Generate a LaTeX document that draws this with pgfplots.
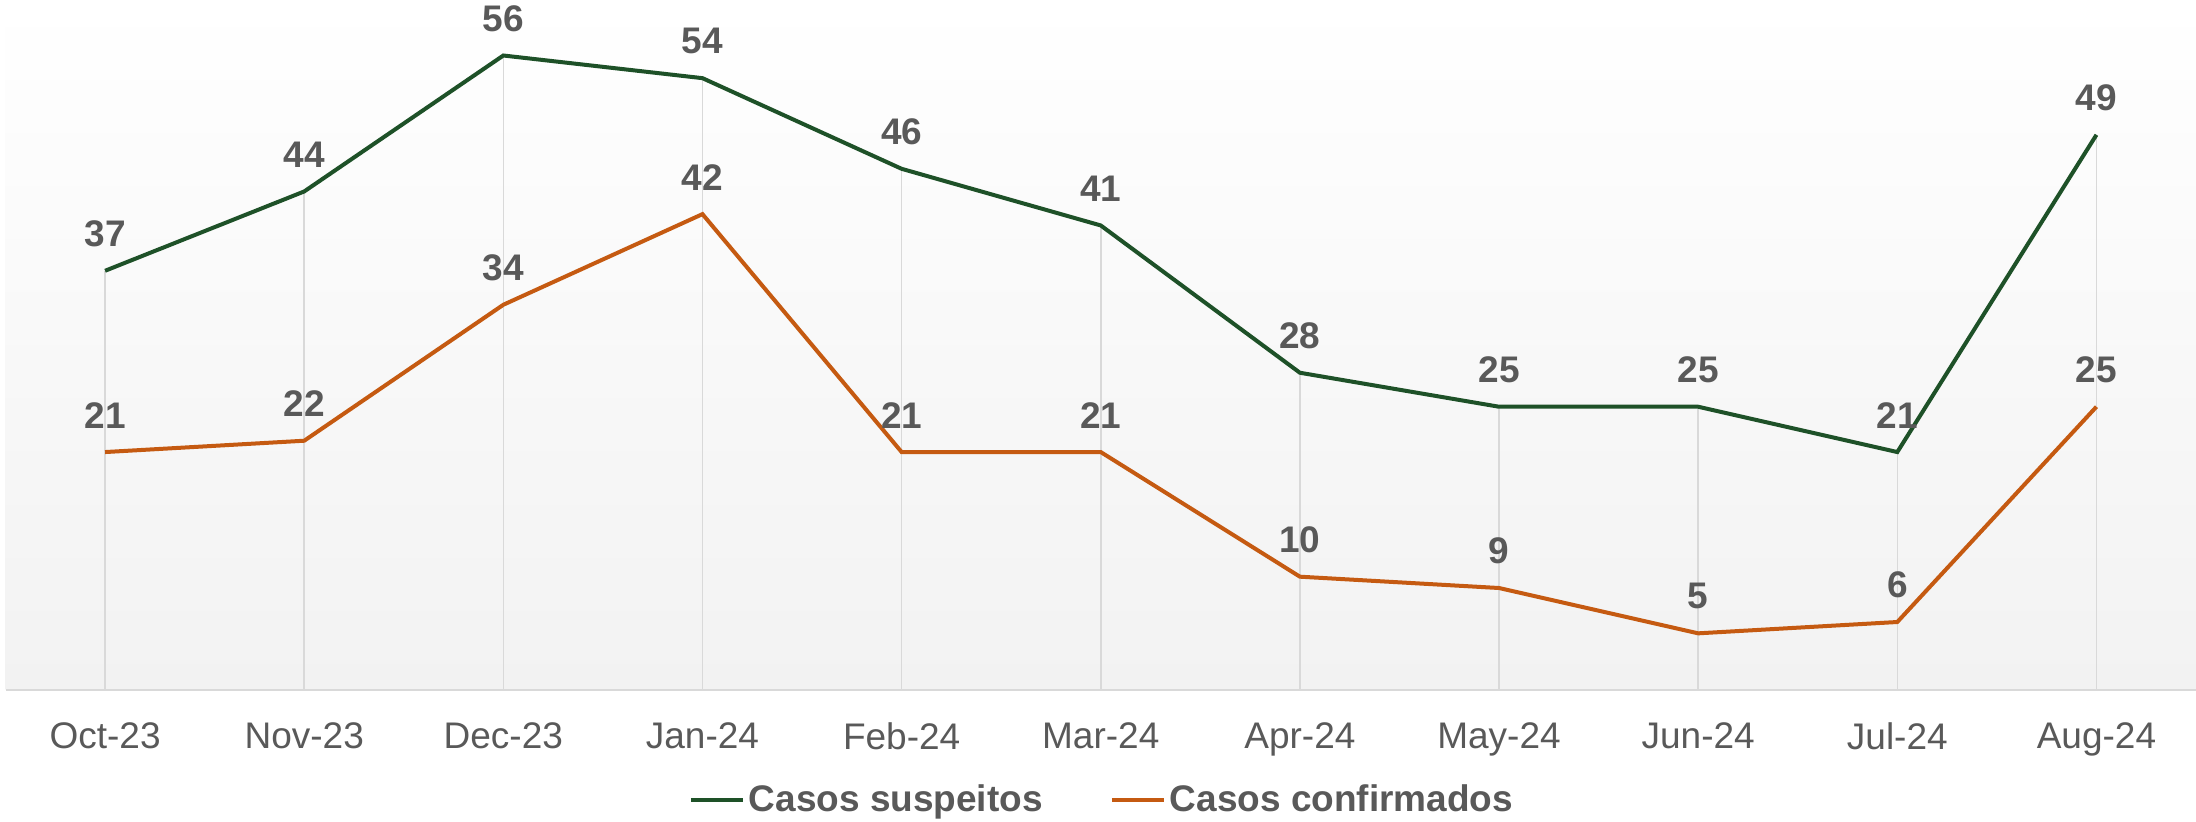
\documentclass[border=0pt]{standalone}
\usepackage{pgfplots}
\pgfplotsset{compat=1.18}
\usepackage{fontspec}
\setmainfont{Liberation Sans}
\definecolor{susp}{HTML}{1E5128}
\definecolor{conf}{HTML}{C55A11}
\definecolor{txt}{HTML}{595959}
\definecolor{gridc}{HTML}{D9D9D9}
\definecolor{bgbot}{HTML}{F2F2F2}
\begin{document}
\begin{tikzpicture}
\useasboundingbox (0,0) rectangle (1098pt,411pt);
\begin{axis}[
  at={(2.75pt,66pt)}, anchor=south west,
  scale only axis, width=1095.25pt, height=345pt,
  xmin=-0.5, xmax=10.5, ymin=0, ymax=60.9,
  clip=false,
  /pgf/number format/assume math mode=true,
  axis background/.style={shade, top color=white, bottom color=bgbot},
  axis x line*=bottom, axis y line=none,
  x axis line style={-, draw=gridc, line width=0.75pt},
  xtick={0,...,10}, major tick length=0pt,
  xticklabels={Oct-23,Nov-23,Dec-23,Jan-24,Feb-24,Mar-24,Apr-24,May-24,Jun-24,Jul-24,Aug-24},
  xticklabel style={font=\fontsize{18.5}{22}\selectfont, text=txt, inner sep=0pt, anchor=north, yshift=-16pt},
  ytick=\empty,
  legend columns=2,
  legend style={at={(0.501,-0.159)}, anchor=center, draw=none, fill=none,
    font=\fontsize{18.5}{22}\selectfont\bfseries, text=txt,
    /tikz/every even column/.append style={column sep=31.5pt},
    inner sep=0pt},
  legend image code/.code={\draw[#1, line width=2pt] (0pt,0pt) -- (26pt,0pt);},
  nodes near coords style={font=\fontsize{18.5}{22}\selectfont\bfseries, text=txt, anchor=south, inner sep=0pt, yshift=11pt},
]
\addplot[ycomb, draw=gridc, line width=0.75pt, forget plot] coordinates {
(0,37) (1,44) (2,56) (3,54) (4,46) (5,41) (6,28) (7,25) (8,25) (9,21) (10,49)};
\addplot[susp, line width=2pt, mark=none, nodes near coords] coordinates {
(0,37) (1,44) (2,56) (3,54) (4,46) (5,41) (6,28) (7,25) (8,25) (9,21) (10,49)};
\addlegendentry{Casos suspeitos}
\addplot[conf, line width=2pt, mark=none, nodes near coords] coordinates {
(0,21) (1,22) (2,34) (3,42) (4,21) (5,21) (6,10) (7,9) (8,5) (9,6) (10,25)};
\addlegendentry{Casos confirmados}
\end{axis}
\end{tikzpicture}
\end{document}
